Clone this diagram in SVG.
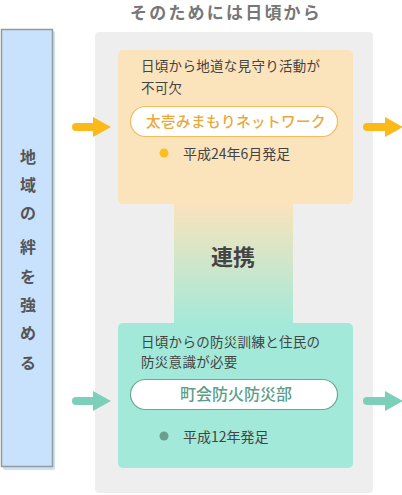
<svg xmlns="http://www.w3.org/2000/svg" width="402" height="495" viewBox="0 0 402 495">
<defs>
<linearGradient id="link" x1="0" y1="0" x2="0" y2="1">
<stop offset="0" stop-color="#fbe3bc"/>
<stop offset="1" stop-color="#a3e9d9"/>
</linearGradient>
<marker id="headO" viewBox="0 0 18 20" refX="0" refY="10" markerWidth="18" markerHeight="20" markerUnits="userSpaceOnUse" orient="auto">
<path d="M0,0 L18,10 L0,20 Z" fill="#fbba1a"/>
</marker>
<marker id="headT" viewBox="0 0 18 20" refX="0" refY="10" markerWidth="18" markerHeight="20" markerUnits="userSpaceOnUse" orient="auto">
<path d="M0,0 L18,10 L0,20 Z" fill="#7ccfb8"/>
</marker>
</defs>
<style>
text{font-family:"Noto Sans CJK JP","Noto Sans",sans-serif;}
.title{font-size:17px;font-weight:bold;fill:#777;}
.side{font-size:16px;font-weight:bold;fill:#555;}
.desc{font-size:13.5px;fill:#444;letter-spacing:0.3px;}
.sub{font-size:14px;fill:#444;}
.shaftO{stroke:#fbba1a;stroke-width:8;stroke-linecap:round;fill:none;}
.shaftT{stroke:#7ccfb8;stroke-width:8;stroke-linecap:round;fill:none;}
</style>
<text class="title" x="226" y="19" text-anchor="middle" letter-spacing="2.2">そのためには日頃から</text>
<g id="side">
<rect x="3" y="31" width="52" height="439" rx="2" fill="#c8e1fc"/>
<rect x="1.5" y="29.5" width="51" height="437" fill="#c8e1fc" stroke="#999" stroke-width="1.5"/>
<g class="side" text-anchor="middle">
<text x="28" y="163">地</text>
<text x="28" y="191">域</text>
<text x="28" y="219">の</text>
<text x="28" y="253">絆</text>
<text x="28" y="283">を</text>
<text x="28" y="311">強</text>
<text x="28" y="339">め</text>
<text x="28" y="369">る</text>
</g>
</g>
<g id="background">
<rect x="95" y="32" width="278" height="461" rx="4" fill="#eeeeee"/>
</g>
<g id="link">
<rect x="174" y="203" width="119" height="122" fill="url(#link)"/>
<text x="233" y="265" text-anchor="middle" font-size="22" font-weight="bold" fill="#444">連携</text>
</g>
<g id="network">
<rect x="118" y="50" width="235" height="154" rx="5" fill="#fbe3bc"/>
<text class="desc" x="141" y="71">日頃から地道な見守り活動が</text>
<text class="desc" x="141" y="93">不可欠</text>
<rect x="130.5" y="106.5" width="207" height="30" rx="15" fill="#fff" stroke="#f2bc5c" stroke-width="1.2"/>
<text x="236" y="127" text-anchor="middle" font-size="14.5" font-weight="500" fill="#e9a93a" letter-spacing="0.5">太壱みまもりネットワーク</text>
<circle cx="164" cy="153" r="4.5" fill="#fbbf1f"/>
<text class="sub" x="183" y="159">平成24年6月発足</text>
</g>
<g id="bousai">
<rect x="118" y="323" width="235" height="145" rx="5" fill="#a3e9d9"/>
<text class="desc" x="141" y="347">日頃からの防災訓練と住民の</text>
<text class="desc" x="141" y="367">防災意識が必要</text>
<rect x="130.5" y="379.5" width="207" height="30" rx="15" fill="#fff" stroke="#6aa896" stroke-width="1.2"/>
<text x="236" y="400" text-anchor="middle" font-size="16" font-weight="500" fill="#5a9e8c">町会防火防災部</text>
<circle cx="164" cy="436" r="4.5" fill="#6a9e8f"/>
<text class="sub" x="183" y="442">平成12年発足</text>
</g>
<g id="connectors">
<line class="shaftO" x1="76" y1="127" x2="93" y2="127" marker-end="url(#headO)"/>
<line class="shaftT" x1="76" y1="401" x2="93" y2="401" marker-end="url(#headT)"/>
<line class="shaftO" x1="367" y1="127" x2="385" y2="127" marker-end="url(#headO)"/>
<line class="shaftT" x1="367" y1="401" x2="385" y2="401" marker-end="url(#headT)"/>
</g>
</svg>
